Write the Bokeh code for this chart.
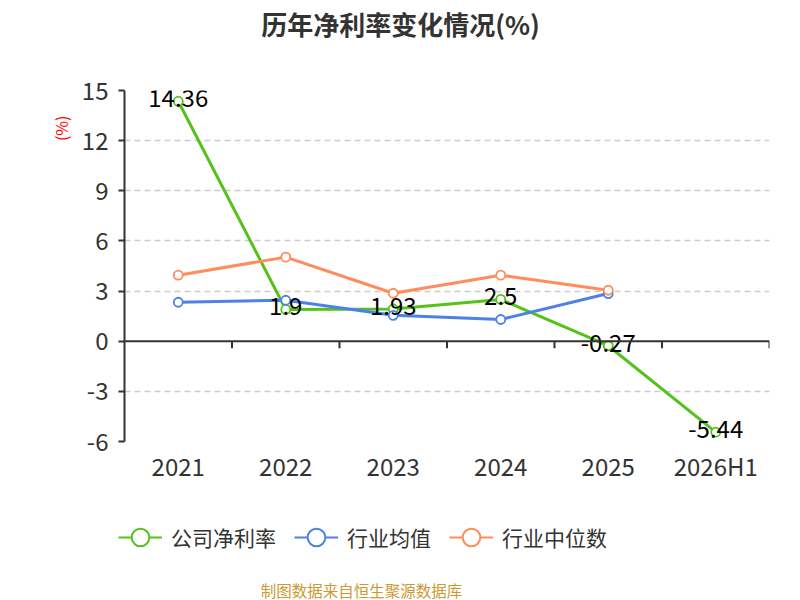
from bokeh.plotting import figure
from bokeh.models import (ColumnDataSource, Range1d, FixedTicker, Span, Label, Legend,
                          LegendItem, Title, Plot)
from bokeh.layouts import column
from bokeh.embed import file_html
from bokeh.resources import INLINE
from bokeh.core.properties import value

categories = ["2021", "2022", "2023", "2024", "2025", "2026H1"]
company = [14.36, 1.9, 1.93, 2.5, -0.27, -5.44]
industry_mean = [2.33, 2.45, 1.55, 1.3, 2.85]
industry_median = [3.95, 5.03, 2.87, 3.95, 3.05]
y_ticks = [-6, -3, 0, 3, 6, 9, 12, 15]

names = ["公司净利率", "行业均值", "行业中位数"]
colors = ["#55C21B", "#4E80E6", "#FF8C5A"]
FONT = "Noto Sans CJK SC"
W = 800
HAS_FA = "frame_align" in Plot.properties()
DX = 0 if HAS_FA else 124


def blank(h):
    f = figure(width=W, height=h, output_backend="svg", toolbar_location=None,
               x_range=Range1d(0, W), y_range=Range1d(0, h),
               min_border=0, min_border_left=0, min_border_right=0,
               min_border_top=0, min_border_bottom=0)
    if HAS_FA:
        f.frame_align = False
    f.title = None
    f.axis.visible = False
    f.grid.visible = False
    f.outline_line_color = None
    return f


# ---- header with title
head = blank(48)
head.add_layout(Label(x=400 - DX, y=25, x_units="screen", y_units="screen", text="历年净利率变化情况(%)",
                      text_align="center", text_baseline="middle", text_color="#333333",
                      text_font_size="26px", text_font_style="bold", text_font=FONT))

# ---- main chart
xs = list(range(len(categories)))
p = figure(width=W, height=452, output_backend="svg", toolbar_location=None,
           x_range=Range1d(-0.5, len(categories) - 0.5), y_range=Range1d(-6, 15),
           min_border_left=124, min_border_right=31, min_border_top=42, min_border_bottom=59)
p.title = None
p.outline_line_color = None

p.xaxis.ticker = FixedTicker(ticks=xs)
p.xaxis.major_label_overrides = {i: c for i, c in enumerate(categories)}
p.xaxis.axis_line_color = None
p.xaxis.major_tick_line_color = None
p.xaxis.minor_tick_line_color = None
p.xaxis.major_label_text_font_size = "24px"
p.xaxis.major_label_text_color = "#333333"
p.xaxis.major_label_text_font = FONT
p.xaxis.major_label_standoff = 0

p.yaxis.ticker = FixedTicker(ticks=y_ticks)
p.yaxis.major_label_overrides = {t: str(t) for t in y_ticks}
p.yaxis.axis_line_color = "#333333"
p.yaxis.axis_line_width = 2
p.yaxis.major_tick_line_color = "#333333"
p.yaxis.major_tick_line_width = 2
p.yaxis.major_tick_out = 6
p.yaxis.major_tick_in = 0
p.yaxis.minor_tick_line_color = None
p.yaxis.major_label_text_font_size = "24px"
p.yaxis.major_label_text_color = "#333333"
p.yaxis.major_label_text_font = FONT
p.yaxis.major_label_standoff = 10

p.add_layout(Title(text="(%)", align="right", text_color="#ff0000", text_font_size="16px",
                   text_font_style="normal", text_font=FONT, standoff=11, offset=25), "left")

p.xgrid.grid_line_color = None
p.ygrid.ticker = FixedTicker(ticks=[t for t in y_ticks if t != 0])
p.ygrid.grid_line_color = "#cccccc"
p.ygrid.grid_line_dash = "6 4"
p.ygrid.grid_line_width = 1.5

p.add_layout(Span(location=0, dimension="width", line_color="#333333", line_width=2))
tick_len = 21 / 351 * 7
bounds = [i + 0.5 for i in xs]
p.segment(x0=bounds, y0=[0] * len(bounds), x1=bounds, y1=[-tick_len] * len(bounds),
          line_color="#333333", line_width=2)

series = [company, industry_mean, industry_median]
for vals, col in zip(series, colors):
    src = ColumnDataSource(dict(x=xs[:len(vals)], y=vals))
    p.line("x", "y", source=src, line_color=col, line_width=3)
    p.scatter("x", "y", source=src, size=9, fill_color="white", line_color=col, line_width=1.8)

lab_src = ColumnDataSource(dict(x=xs, y=company, t=[str(v) for v in company]))
p.text("x", "y", text="t", source=lab_src, text_align="center", text_baseline="middle",
       y_offset=-3, text_font_size="24px", text_color="#000000", text_font=value(FONT))

# ---- footer with legend and source note
foot = blank(100)
items = []
for name, col in zip(names, colors):
    proxy = ColumnDataSource(dict(x=[-1000], y=[-1000]))  # off-canvas legend proxy
    lr = foot.line("x", "y", source=proxy, line_color=col, line_width=2)
    sr = foot.scatter("x", "y", source=proxy, size=17, fill_color="white", line_color=col, line_width=2)
    items.append(LegendItem(label=name, renderers=[lr, sr]))
legend = Legend(items=items, orientation="horizontal", location=(118 - DX, 41),
                label_text_font_size="21px", label_text_font=FONT, label_text_color="#333333",
                glyph_width=44, glyph_height=44, label_height=44, label_standoff=9, spacing=18,
                border_line_color=None, background_fill_alpha=0, margin=0, padding=0)
foot.add_layout(legend, "center")
foot.add_layout(Label(x=361 - DX, y=11, x_units="screen", y_units="screen", text="制图数据来自恒生聚源数据库",
                      text_align="center", text_baseline="middle", text_color="#CC9933",
                      text_font_size="15.5px", text_font=FONT))

layout = column(head, p, foot, spacing=0)
open("out.html", "w").write(file_html(layout, INLINE))
